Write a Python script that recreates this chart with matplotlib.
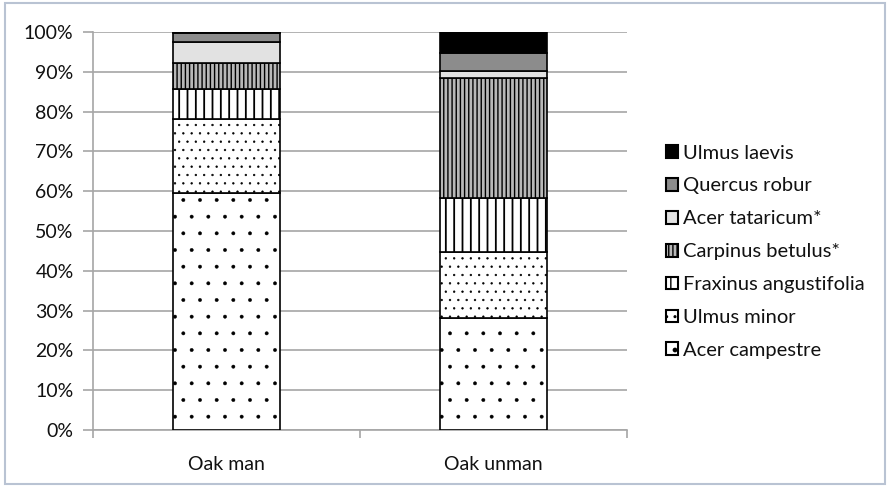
import numpy as np
import matplotlib
matplotlib.use("Agg")
import matplotlib.pyplot as plt
from matplotlib.patches import Rectangle, Patch

plt.rcParams['font.family'] = ['Lato', 'DejaVu Sans']

# data (percent of stems)
sites = ["Oak man", "Oak unman"]
species = ["Acer campestre", "Ulmus minor", "Fraxinus angustifolia",
           "Carpinus betulus*", "Acer tataricum*", "Quercus robur", "Ulmus laevis"]
acer_campestre = [59.5, 28.1]
ulmus_minor = [18.6, 16.7]
fraxinus = [7.6, 13.6]
carpinus = [6.6, 30.0]
acer_tataricum = [5.1, 1.8]
quercus = [2.3, 4.4]
ulmus_laevis = [0.3, 5.4]

values = [acer_campestre, ulmus_minor, fraxinus, carpinus,
          acer_tataricum, quercus, ulmus_laevis]

# fill / hatch per species (bottom to top)
faces = ["white", "white", "white", "#b8b8b8", "#e2e2e2", "#8c8c8c", "black"]
hatches = [".", "..", "||", "||||", "", "", ""]
hatch_lw = [0.3, 0.45, 1.3, 1.0, 1.0, 1.0, 1.0]

fig = plt.figure(figsize=(8.9, 4.86), dpi=100)
ax = fig.add_axes([0.1045, 0.1152, 0.6, 0.819])

x = np.arange(len(sites))
bottom = np.zeros(len(sites))
handles = []
for name, vals, fc, h, hlw in zip(species, values, faces, hatches, hatch_lw):
    v = np.array(vals) / 100.0
    with plt.rc_context({'hatch.linewidth': hlw}):
        ax.bar(x, v, width=0.4, bottom=bottom, color=fc, edgecolor="black",
               hatch=h, linewidth=1.2, zorder=3)
        handles.append(Patch(facecolor=fc, edgecolor="black", hatch=h,
                             linewidth=1.5, label=name))
    bottom += v

ax.set_xlim(-0.5, 1.5)
ax.set_ylim(0, 1)
ticks = np.arange(0, 1.01, 0.1)
ax.set_yticks(ticks)
ax.set_yticklabels([f"{int(round(t * 100))}%" for t in ticks])
ax.yaxis.grid(True, color="#a6a6a6", linewidth=1.2, zorder=0)

ax.set_xticks(x)
ax.set_xticklabels(sites)
ax.set_xticks([-0.5, 0.5, 1.5], minor=True)
ax.tick_params(axis="x", which="major", length=0, pad=19, labelsize=14, labelcolor="#111111")
ax.tick_params(axis="x", which="minor", length=6, color="#a6a6a6", width=1.2)
ax.tick_params(axis="y", length=7, color="#a6a6a6", width=1.2, pad=7,
               labelsize=14, labelcolor="#111111")

for s in ["top", "right"]:
    ax.spines[s].set_visible(False)
for s in ["left", "bottom"]:
    ax.spines[s].set_color("#a6a6a6")
    ax.spines[s].set_linewidth(1.2)

leg = fig.legend(handles[::-1], [h.get_label() for h in handles[::-1]],
                 loc="center left", bbox_to_anchor=(0.739, 0.482),
                 frameon=False, fontsize=14.5, handlelength=0.6, handleheight=0.6,
                 handletextpad=0.25, labelspacing=0.79, borderaxespad=0)
for t in leg.get_texts():
    t.set_color("#111111")

# thin frame around the whole chart
fig.add_artist(Rectangle((0.006, 0.004), 0.988, 0.99, transform=fig.transFigure,
                         fill=False, edgecolor="#b9c3d3", linewidth=1.5))

fig.savefig("out.png", dpi=100)
